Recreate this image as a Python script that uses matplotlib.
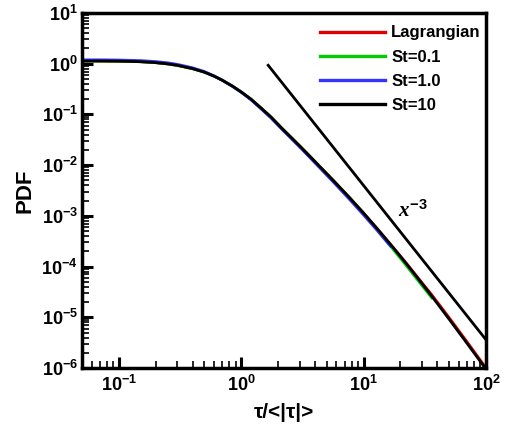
import numpy as np
import matplotlib
matplotlib.use("Agg")
import matplotlib.pyplot as plt
from matplotlib.ticker import LogLocator, FuncFormatter, NullFormatter

plt.rcParams['font.family'] = ['Liberation Sans', 'DejaVu Sans']
plt.rcParams['font.weight'] = 'bold'
plt.rcParams['mathtext.fontset'] = 'custom'
plt.rcParams['mathtext.rm'] = 'Liberation Sans:bold'
plt.rcParams['mathtext.bf'] = 'Liberation Sans:bold'
plt.rcParams['mathtext.it'] = 'Liberation Serif:italic'

# tau / <|tau|>
tau = [0.05, 0.07, 0.1, 0.15, 0.2, 0.25, 0.3, 0.4, 0.5, 0.6, 0.7, 0.85,
       1.0, 1.2, 1.46, 1.75, 2.13, 2.6, 3.1, 3.7, 4.47, 5.8, 7.5, 10,
       13, 16.6, 22, 29, 36, 50, 70, 100]

# St=10 (black), full range
pdf_st10 = [1.13, 1.13, 1.122, 1.095, 1.049, 0.992, 0.928, 0.799, 0.681, 0.567, 0.472, 0.360,
            0.277, 0.200, 0.132, 0.0887, 0.0543, 0.0337, 0.0221, 0.0143, 0.00893, 0.00466, 0.00242, 0.00113,
            5.48e-4, 2.73e-4, 1.19e-4, 5.12e-5, 2.62e-5, 9.14e-6, 3.06e-6, 9.44e-7]
# St=1.0 (blue), up to tau ~ 16.6
pdf_st1 = [1.19, 1.19, 1.18, 1.15, 1.10, 1.04, 0.97, 0.83, 0.70, 0.575, 0.47, 0.355,
           0.272, 0.194, 0.127, 0.085, 0.052, 0.0322, 0.0210, 0.0135, 0.00840, 0.00435, 0.00224, 0.00104,
           5.05e-4, 2.52e-4]
# St=0.1 (green), up to tau ~ 36
pdf_st01 = [1.13, 1.13, 1.122, 1.095, 1.049, 0.992, 0.928, 0.799, 0.681, 0.567, 0.472, 0.360,
            0.277, 0.200, 0.132, 0.0887, 0.0543, 0.0337, 0.0221, 0.0143, 0.00893, 0.00466, 0.00242, 0.00113,
            5.2e-4, 2.52e-4, 1.09e-4, 4.68e-5, 2.42e-5]
# Lagrangian (red), full range
pdf_lag = [1.13, 1.13, 1.122, 1.095, 1.049, 0.992, 0.928, 0.799, 0.681, 0.567, 0.472, 0.360,
           0.277, 0.200, 0.132, 0.0887, 0.0543, 0.0337, 0.0221, 0.0143, 0.00893, 0.00466, 0.00242, 0.00113,
           5.48e-4, 2.73e-4, 1.22e-4, 5.3e-5, 2.78e-5, 9.8e-6, 3.27e-6, 1.0e-6]

# x^-3 reference line end points
ref_x = [1.66, 100]
ref_y = [0.93, 3.6e-6]

fig = plt.figure(figsize=(5.07, 4.32), dpi=100)
ax = fig.add_axes([0.1617, 0.148, 0.797, 0.822])

lw = 2.0
ax.plot(tau[:len(pdf_lag)], pdf_lag, color='#e00000', lw=lw, label='Lagrangian')
ax.plot(tau[:len(pdf_st01)], pdf_st01, color='#00cc00', lw=lw, label='St=0.1')
ax.plot(tau[:len(pdf_st1)], pdf_st1, color='#3333ff', lw=lw, label='St=1.0')
ax.plot(tau[:len(pdf_st10)], pdf_st10, color='black', lw=lw, label='St=10')
ax.plot(ref_x, ref_y, color='black', lw=2.0)

ax.text(25, 1.3e-3, r'$\mathit{x^{-3}}$', fontsize=15, ha='center', va='center')

ax.set_xscale('log')
ax.set_yscale('log')
ax.set_xlim(0.05, 100)
ax.set_ylim(1e-6, 10)

ax.xaxis.set_major_locator(LogLocator(base=10, numticks=10))
ax.yaxis.set_major_locator(LogLocator(base=10, numticks=10))
ax.xaxis.set_minor_locator(LogLocator(base=10, subs=np.arange(2, 10), numticks=20))
ax.yaxis.set_minor_locator(LogLocator(base=10, subs=np.arange(2, 10), numticks=20))
fmt = FuncFormatter(lambda v, p: r'$\mathbf{10^{%d}}$' % int(round(np.log10(v))))
ax.xaxis.set_major_formatter(fmt)
ax.yaxis.set_major_formatter(fmt)
ax.xaxis.set_minor_formatter(NullFormatter())
ax.yaxis.set_minor_formatter(NullFormatter())

ax.tick_params(which='major', direction='in', length=8, width=2.2, labelsize=13)
ax.tick_params(axis='y', which='major', pad=3)
ax.tick_params(axis='x', which='major', pad=5)
ax.tick_params(which='minor', direction='in', length=5, width=1.2)
ax.tick_params(top=False, right=False, which='both')
for s in ax.spines.values():
    s.set_linewidth(2.5)

ax.set_xlabel('τ/<|τ|>', fontsize=15, fontweight='bold', labelpad=6)
ax.set_ylabel('PDF', fontsize=16, fontweight='bold', labelpad=4)

leg = ax.legend(loc='upper left', bbox_to_anchor=(0.588, 0.965), frameon=False,
                fontsize=12, handlelength=3.9, handletextpad=0.4,
                labelspacing=0.55, borderpad=0, borderaxespad=0)
for h in leg.get_lines():
    h.set_linewidth(2.4)

fig.savefig('out.png', dpi=100)
